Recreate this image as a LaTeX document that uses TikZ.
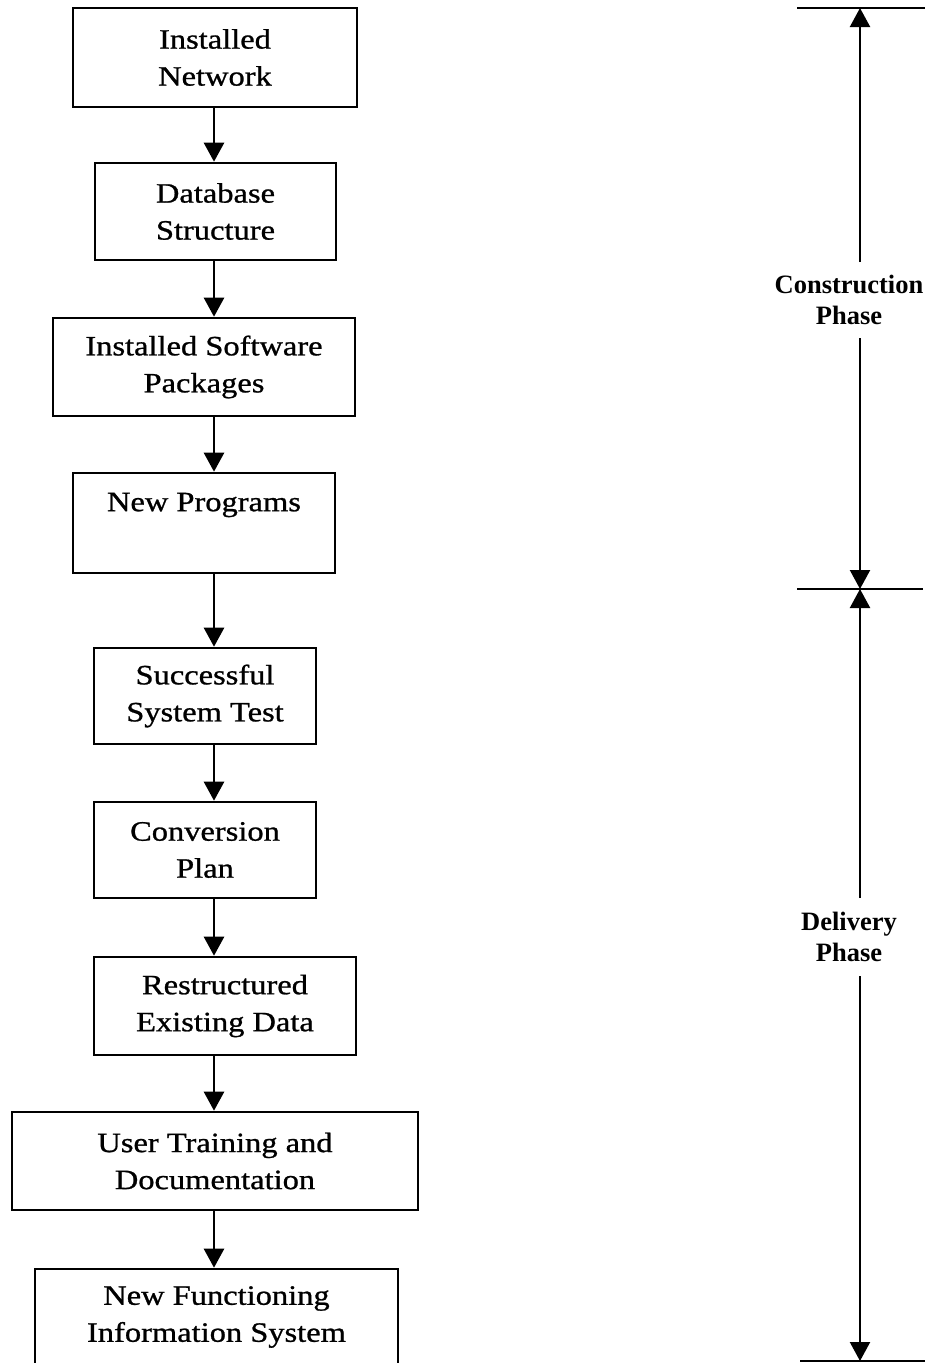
\documentclass[tikz,border=0pt]{standalone}
\usepackage{fontspec}
\setmainfont{Liberation Serif}
\newfontfamily\stepfont[FakeStretch=1.16,FakeBold=0.9]{Liberation Serif}
\usetikzlibrary{arrows.meta}
\begin{document}
\begin{tikzpicture}[x=1pt,y=-1pt,
  line width=2.6pt,
  stepbox/.style={draw, rectangle, line width=2.6pt, inner sep=0pt, align=center,
    font=\stepfont\fontsize{28}{37}\selectfont},
  steptext/.style={align=center, inner sep=0pt, font=\stepfont\fontsize{28}{37}\selectfont},
  flow/.style={-{Triangle[width=20pt,length=19pt]}, line width=2.6pt},
  phase/.style={align=center, inner sep=0pt, font=\bfseries\fontsize{26.5}{31}\selectfont},
  bar/.style={line width=2.6pt}]
\useasboundingbox (0,0) rectangle (938,1363);
\clip (0,0) rectangle (938,1363);

% flow chain of deliverables
\node[stepbox, minimum width=284pt, minimum height=99pt] (b1) at (215,57.5) {Installed\\Network};
\node[stepbox, minimum width=241pt, minimum height=97pt] (b2) at (215.5,211.5) {Database\\Structure};
\node[stepbox, minimum width=302pt, minimum height=98pt] (b3) at (204,367) {Installed Software\\Packages};
\node[stepbox, minimum width=262pt, minimum height=100pt] (b4) at (204,523) {};
\node[steptext] (b4t) at (204,505) {New Programs};
\node[stepbox, minimum width=222pt, minimum height=96pt] (b5) at (205,696) {Successful\\System Test};
\node[stepbox, minimum width=222pt, minimum height=96pt] (b6) at (205,850) {Conversion\\Plan};
\node[stepbox, minimum width=262pt, minimum height=98pt] (b7) at (225,1006) {Restructured\\Existing Data};
\node[stepbox, minimum width=406pt, minimum height=98pt] (b8) at (215,1161) {User Training and\\Documentation};
\node[stepbox, minimum width=363pt, minimum height=112pt] (b9) at (216.5,1325) {};
\node[steptext] (b9t) at (216.5,1317) {New Functioning\\Information System};

% common axis of the connectors
\coordinate (ax) at (214,0);
\draw[flow] (b1.south -| ax) -- (b2.north -| ax);
\draw[flow] (b2.south -| ax) -- (b3.north -| ax);
\draw[flow] (b3.south -| ax) -- (b4.north -| ax);
\draw[flow] (b4.south -| ax) -- (b5.north -| ax);
\draw[flow] (b5.south -| ax) -- (b6.north -| ax);
\draw[flow] (b6.south -| ax) -- (b7.north -| ax);
\draw[flow] (b7.south -| ax) -- (b8.north -| ax);
\draw[flow] (b8.south -| ax) -- (b9.north -| ax);

% phase scale
\coordinate (ptop) at (860,8);
\coordinate (pmid) at (860,589);
\coordinate (pbot) at (860,1361);
\coordinate (ttl) at (797,8);  \coordinate (ttr) at (925,8);
\coordinate (tml) at (797,589); \coordinate (tmr) at (923,589);
\coordinate (tbl) at (800,1361); \coordinate (tbr) at (925,1361);
\draw[bar] (ttl) -- (ttr);
\draw[bar] (tml) -- (tmr);
\draw[bar] (tbl) -- (tbr);

\node[phase] (cons) at (849,300) {Construction\\Phase};
\node[phase] (deliv) at (849,937) {Delivery\\Phase};

\coordinate (c1) at (860,262);
\coordinate (c2) at (860,338);
\coordinate (d1) at (860,898);
\coordinate (d2) at (860,976);
\draw[flow, line width=2.2pt] (c1) -- (ptop);
\draw[flow, line width=2.2pt] (c2) -- (pmid);
\draw[flow, line width=2.2pt] (d1) -- (pmid);
\draw[flow, line width=2.2pt] (d2) -- (pbot);
\end{tikzpicture}
\end{document}
